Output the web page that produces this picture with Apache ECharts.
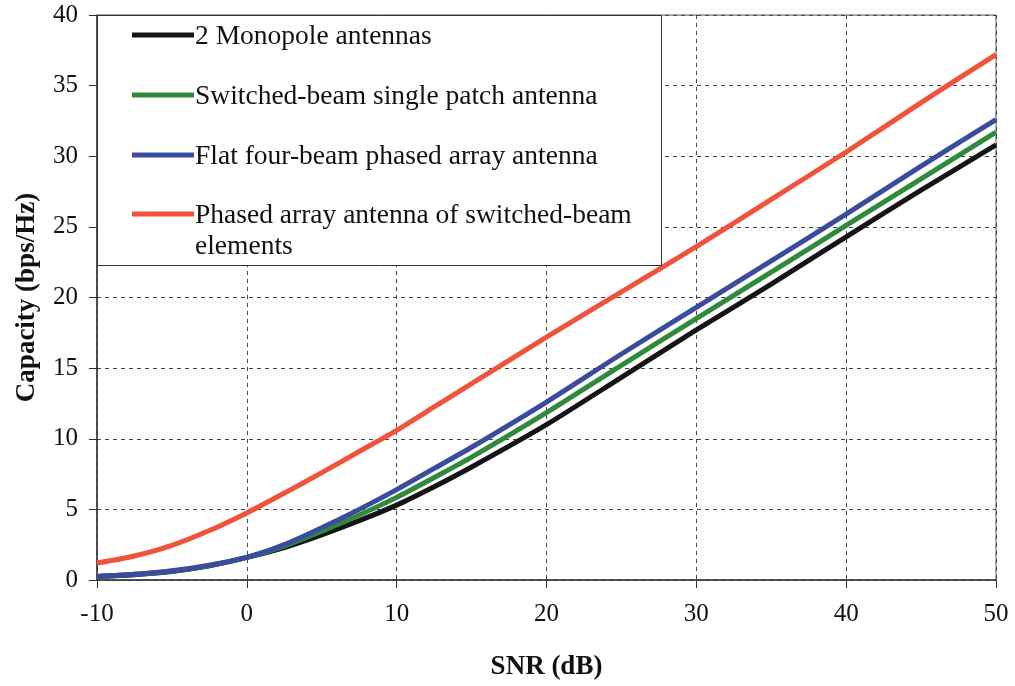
<!DOCTYPE html>
<html>
<head>
<meta charset="utf-8">
<script src="https://cdn.jsdelivr.net/npm/echarts@6/dist/echarts.min.js"></script>
<style>
  html, body { margin: 0; padding: 0; background: #ffffff; }
  #chart { width: 1015px; height: 686px; }
</style>
</head>
<body>
<div id="chart"></div>
<script>
// SNR sample points (dB)
const snr = [-10, -7.5, -5, -2.5, 0, 2.5, 5, 7.5, 10, 12.5, 15, 20, 25, 30, 35, 40, 45, 50];

// Capacity (bps/Hz) for each antenna configuration
const monopole       = [0.25, 0.38, 0.6, 1.0, 1.6, 2.3, 3.2, 4.2, 5.3, 6.6, 8.0, 11.0, 14.35, 17.7, 20.95, 24.3, 27.6, 30.8];
const singlePatch    = [0.25, 0.4, 0.62, 1.02, 1.6, 2.4, 3.45, 4.6, 5.85, 7.25, 8.7, 11.85, 15.2, 18.5, 21.8, 25.1, 28.4, 31.7];
const flatFourBeam   = [0.25, 0.4, 0.65, 1.05, 1.6, 2.5, 3.7, 5.0, 6.4, 7.9, 9.4, 12.6, 16.0, 19.3, 22.6, 25.9, 29.3, 32.6];
const phasedSwitched = [1.2, 1.7, 2.45, 3.5, 4.75, 6.15, 7.6, 9.1, 10.6, 12.25, 13.9, 17.2, 20.4, 23.6, 26.95, 30.3, 33.8, 37.2];

const xTicks = [-10, 0, 10, 20, 30, 40, 50];
const yTicks = [0, 5, 10, 15, 20, 25, 30, 35, 40];

const seriesNames = [
  '2 Monopole antennas',
  'Switched-beam single patch antenna',
  'Flat four-beam phased array antenna',
  'Phased array antenna of switched-beam elements'
];
const legendLines = [
  ['2 Monopole antennas'],
  ['Switched-beam single patch antenna'],
  ['Flat four-beam phased array antenna'],
  ['Phased array antenna of switched-beam', 'elements']
];
const colors = ['#141414', '#2f8a3c', '#3a4c9e', '#f0523a'];
const seriesData = [monopole, singlePatch, flatFourBeam, phasedSwitched];

const FONT = '"Liberation Serif", "Times New Roman", serif';

const chart = echarts.init(document.getElementById('chart'), null, { renderer: 'canvas' });

const gridLeft = 97, gridTop = 15, gridRight = 19, gridBottom = 106;

const series = seriesData.map((vals, i) => ({
  name: seriesNames[i],
  type: 'line',
  data: snr.map((x, k) => [x, vals[k]]),
  smooth: 0.25,
  showSymbol: false,
  lineStyle: { color: colors[i], width: 5 },
  itemStyle: { color: colors[i] },
  z: 3 + i
}));

// Legend drawn as a boxed panel in the upper-left corner of the plot
const legendX0 = 97, legendY0 = 15, legendW = 564, legendH = 250;
const rowY = [35, 95, 155, 214];
const legendChildren = [{
  type: 'rect', z: 100,
  shape: { x: legendX0 + 0.5, y: legendY0 + 0.5, width: legendW, height: legendH },
  style: { fill: '#ffffff', stroke: '#333333', lineWidth: 1 }
}];
legendLines.forEach((lines, i) => {
  legendChildren.push({
    type: 'line', z: 101,
    shape: { x1: 132, y1: rowY[i], x2: 194, y2: rowY[i] },
    style: { stroke: colors[i], lineWidth: 5 }
  });
  lines.forEach((t, j) => {
    legendChildren.push({
      type: 'text', z: 101,
      style: {
        text: t, x: 195, y: rowY[i] + 2 + j * 31,
        font: '27.5px ' + FONT, fill: '#111111',
        textVerticalAlign: 'middle', verticalAlign: 'middle'
      }
    });
  });
});

chart.setOption({
  backgroundColor: '#ffffff',
  animation: false,
  grid: {
    left: gridLeft, top: gridTop, right: gridRight, bottom: gridBottom,
    containLabel: false, outerBoundsMode: 'none',
    show: true, borderColor: '#555555', borderWidth: 1, backgroundColor: 'transparent'
  },
  xAxis: {
    type: 'value', min: -10, max: 50, interval: 10,
    name: 'SNR (dB)', nameLocation: 'middle', nameGap: 74,
    nameTextStyle: { fontFamily: FONT, fontSize: 27, fontWeight: 'bold', color: '#111111' },
    axisLine: { show: true, onZero: false, lineStyle: { color: '#333333', width: 1.5 } },
    axisTick: { show: true, inside: false, length: 8, lineStyle: { color: '#333333' } },
    axisLabel: {
      fontFamily: FONT, fontSize: 25, color: '#111111', margin: 22,
      formatter: v => (xTicks.indexOf(v) >= 0 ? String(v) : '')
    },
    splitLine: { show: true, lineStyle: { color: '#444444', width: 1, type: [4, 4] } }
  },
  yAxis: {
    type: 'value', min: 0, max: 40, interval: 5,
    name: 'Capacity (bps/Hz)', nameLocation: 'middle', nameGap: 56, nameRotate: 90,
    nameTextStyle: { fontFamily: FONT, fontSize: 27, fontWeight: 'bold', color: '#111111' },
    axisLine: { show: true, onZero: false, lineStyle: { color: '#333333', width: 1.5 } },
    axisTick: { show: true, inside: false, length: 8, lineStyle: { color: '#333333' } },
    axisLabel: {
      fontFamily: FONT, fontSize: 25, color: '#111111', margin: 19,
      formatter: v => (yTicks.indexOf(v) >= 0 ? String(v) : '')
    },
    splitLine: { show: true, lineStyle: { color: '#444444', width: 1, type: [4, 4] } }
  },
  series: series,
  graphic: [{ type: 'group', children: legendChildren }]
});
</script>
</body>
</html>
